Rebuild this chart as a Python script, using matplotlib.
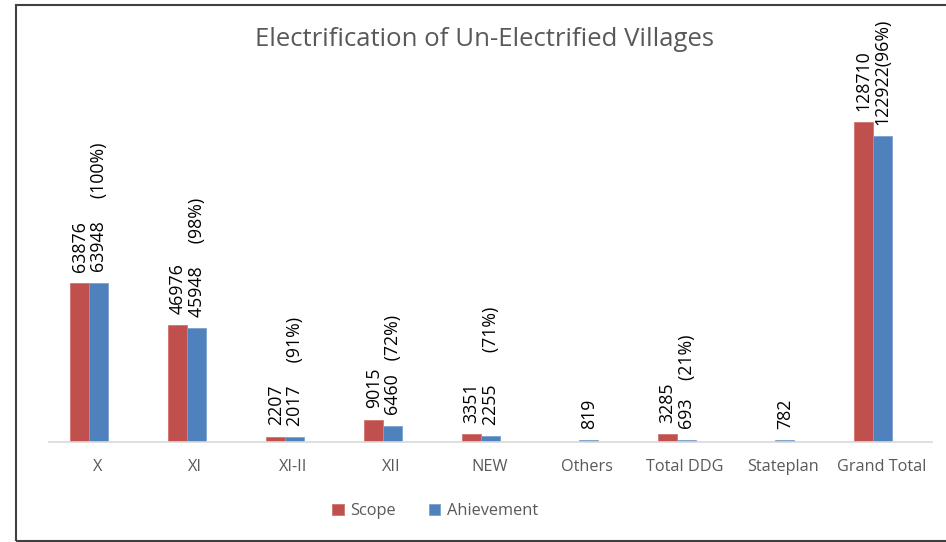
import matplotlib
matplotlib.use("Agg")
import matplotlib.pyplot as plt
from matplotlib.patches import Rectangle
from matplotlib.transforms import ScaledTranslation
import numpy as np

categories = ["X", "XI", "XI-II", "XII", "NEW", "Others", "Total DDG", "Stateplan", "Grand Total"]
scope = [63876, 46976, 2207, 9015, 3351, 0, 3285, 0, 128710]
achievement = [63948, 45948, 2017, 6460, 2255, 819, 693, 782, 122922]
scope_labels = ["63876", "46976", "2207", "9015", "3351", "", "3285", "", "128710"]
ach_labels = ["63948     (100%)", "45948     (98%)", "2017     (91%)", "6460   (72%)",
              "2255       (71%)", "819", "693    (21%)", "782", "122922(96%)"]

plt.rcParams['font.family'] = ['Open Sans', 'DejaVu Sans']
red = "#C0504D"
blue = "#4F81BD"
gray = "#595959"

fig = plt.figure(figsize=(9.46, 5.42), dpi=100)
ax = fig.add_axes([49 / 946, 1 - 442 / 542, (932 - 49) / 946, (442 - 94) / 542])

x = np.arange(len(categories))
w = 0.195
b1 = ax.bar(x - w / 2, scope, w, color=red, edgecolor="#D27370", linewidth=0.6, label="Scope")
b2 = ax.bar(x + w / 2, achievement, w, color=blue, edgecolor="#7EA3D0", linewidth=0.6, label="Ahievement")

for xi, v, lab in zip(x, scope, scope_labels):
    if lab:
        ax.annotate(lab, (xi - w / 2, v), xytext=(0, 8), textcoords="offset points",
                    rotation=90, ha="center", va="bottom", fontsize=12.8, color="black")
for xi, v, lab in zip(x, achievement, ach_labels):
    if lab:
        ax.annotate(lab, (xi + w / 2, v), xytext=(0, 8), textcoords="offset points",
                    rotation=90, ha="center", va="bottom", fontsize=12.8, color="black")

ax.set_xlim(-0.41, len(categories) - 0.4)
ax.set_ylim(0, 140000)
ax.set_xticks(x)
ax.set_xticklabels(categories, fontsize=11.7, color=gray)
ax.tick_params(axis="x", length=0, pad=12)
shift = ScaledTranslation(8 / 100, 0, fig.dpi_scale_trans)
for lbl in ax.get_xticklabels():
    lbl.set_transform(lbl.get_transform() + shift)
ax.set_yticks([])
for s in ["left", "right", "top"]:
    ax.spines[s].set_visible(False)
ax.spines["bottom"].set_color("#D9D9D9")
ax.spines["bottom"].set_linewidth(1.2)

fig.text(484 / 946, 1 - 40 / 542, "Electrification of Un-Electrified Villages",
         ha="center", va="center", fontsize=18.5, color=gray)

leg = fig.legend(handles=[b1, b2], labels=["Scope", "Ahievement"], loc="center",
                 bbox_to_anchor=(435 / 946, 1 - 511 / 542), ncol=2, frameon=False,
                 fontsize=11.8, handlelength=0.7, handleheight=0.7, columnspacing=2.0,
                 handletextpad=0.4)
for t in leg.get_texts():
    t.set_color(gray)

fig.patches.append(Rectangle((16 / 946, 1 - 541 / 542), 1.0, (541 - 5) / 542,
                             transform=fig.transFigure, fill=False,
                             edgecolor="#404040", linewidth=1.5))

fig.savefig("out.png", dpi=100)
